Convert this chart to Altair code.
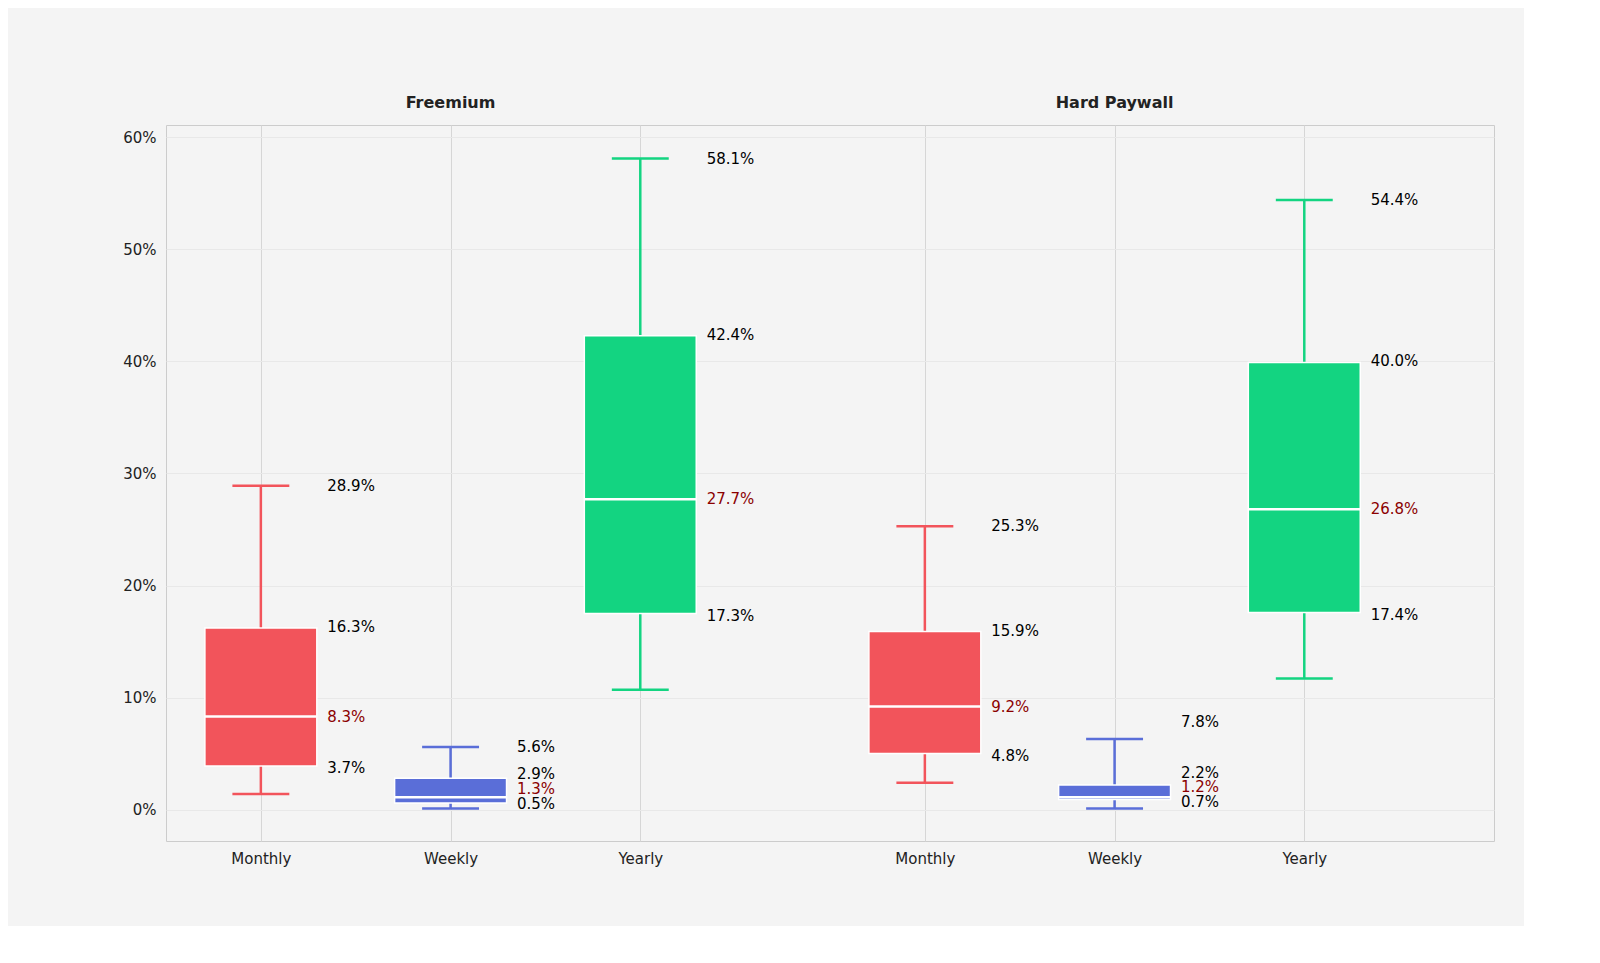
import pandas as pd
import altair as alt

groups = ["Freemium"] * 3 + ["Hard Paywall"] * 3
plans = ["Monthly", "Weekly", "Yearly"] * 2
pos = [0, 1, 2, 3.5, 4.5, 5.5]
low = [1.4, 0.1, 10.7, 2.4, 0.1, 11.7]
q1 = [3.9, 0.6, 17.5, 5.0, 0.9, 17.6]
med = [8.3, 1.1, 27.7, 9.2, 1.1, 26.8]
q3 = [16.2, 2.8, 42.3, 15.9, 2.2, 39.9]
high = [28.9, 5.6, 58.1, 25.3, 6.3, 54.4]
# label texts
label_hi = [28.9, 5.6, 58.1, 25.3, 7.8, 54.4]
label_q3 = [16.3, 2.9, 42.4, 15.9, 2.2, 40.0]
label_med = [8.3, 1.3, 27.7, 9.2, 1.2, 26.8]
label_q1 = [3.7, 0.5, 17.3, 4.8, 0.7, 17.4]
# where the labels sit (weekly ones are spread apart)
at_hi = [28.9, 5.6, 58.1, 25.3, 7.8, 54.4]
at_q3 = [16.3, 3.2, 42.4, 15.9, 3.3, 40.0]
at_med = [8.3, 1.8, 27.7, 9.2, 2.0, 26.8]
at_q1 = [3.7, 0.5, 17.3, 4.8, 0.7, 17.4]
colors = {"Monthly": "#F2545B", "Weekly": "#5A6ED8", "Yearly": "#13D481"}

df = pd.DataFrame(dict(group=groups, plan=plans, pos=pos, low=low, q1=q1, med=med,
                       q3=q3, high=high))
df["bl"] = df.pos - 0.295
df["br"] = df.pos + 0.295
df["cl"] = df.pos - 0.15
df["cr"] = df.pos + 0.15
df["lx"] = df.pos + 0.35

xs = alt.Scale(domain=[-0.5, 6.5], nice=False, zero=False)
ys = alt.Scale(domain=[-2.8, 61.1], nice=False, zero=False)
col = alt.Color("plan:N", scale=alt.Scale(domain=list(colors), range=list(colors.values())), legend=None)

label_expr = "{'0':'Monthly','1':'Weekly','2':'Yearly','3.5':'Monthly','4.5':'Weekly','5.5':'Yearly'}[datum.value]"
base = alt.Chart(df)

whisker = base.mark_rule(strokeWidth=2.5).encode(
    x=alt.X("pos:Q", scale=xs, title=None,
            axis=alt.Axis(values=pos, labelExpr=label_expr, grid=True, gridColor="#d6d6d6",
                          ticks=False, domain=False, labelFontSize=15, labelPadding=10,
                          labelColor="#222", labelFont="DejaVu Sans")),
    y=alt.Y("low:Q", scale=ys, title=None,
            axis=alt.Axis(values=[0, 10, 20, 30, 40, 50, 60], labelExpr="datum.value + '%'",
                          gridColor="#e8e8e8", ticks=False, domain=False, labelFontSize=15,
                          labelPadding=10, labelColor="#222", labelFont="DejaVu Sans")),
    y2="high:Q", color=col)
caps_lo = base.mark_rule(strokeWidth=2.5).encode(x=alt.X("cl:Q", scale=xs), x2="cr:Q",
                                                y=alt.Y("low:Q", scale=ys), color=col)
caps_hi = base.mark_rule(strokeWidth=2.5).encode(x=alt.X("cl:Q", scale=xs), x2="cr:Q",
                                                y=alt.Y("high:Q", scale=ys), color=col)
box = base.mark_rect(stroke="white", strokeWidth=1.5).encode(
    x=alt.X("bl:Q", scale=xs), x2="br:Q", y=alt.Y("q1:Q", scale=ys), y2="q3:Q", color=col,
    opacity=alt.value(1))
median = base.mark_rule(color="white", strokeWidth=2.5).encode(
    x=alt.X("bl:Q", scale=xs), x2="br:Q", y=alt.Y("med:Q", scale=ys))

lab = pd.DataFrame({
    "x": list(df.lx) * 4,
    "y": at_hi + at_q3 + at_med + at_q1,
    "v": label_hi + label_q3 + label_med + label_q1,
    "kind": ["o"] * 12 + ["m"] * 6 + ["o"] * 6,
})
lab["t"] = lab.v.map(lambda v: f"{v:.1f}%")
labels = alt.Chart(lab).mark_text(align="left", fontSize=15, font="DejaVu Sans").encode(
    x=alt.X("x:Q", scale=xs), y=alt.Y("y:Q", scale=ys), text="t:N",
    color=alt.Color("kind:N", scale=alt.Scale(domain=["o", "m"], range=["#000000", "#8B0000"]),
                    legend=None))

titles_df = pd.DataFrame({"x": [1, 4.5], "y": [63.1, 63.1], "t": ["Freemium", "Hard Paywall"]})
titles = alt.Chart(titles_df).mark_text(fontSize=16, fontWeight="bold", color="#222",
                                        font="DejaVu Sans", clip=False).encode(
    x=alt.X("x:Q", scale=xs), y=alt.Y("y:Q", scale=ys), text="t:N")

chart = alt.layer(whisker, caps_lo, caps_hi, box, median, labels, titles).resolve_scale(
    color="independent"
).properties(
    width=1328, height=716, background="#f4f4f4",
    padding={"left": 114, "top": 86, "right": 30, "bottom": 60}
).configure_view(stroke="#cccccc", fill="#f4f4f4")

chart.save("out.html", embed_options={"renderer": "svg", "actions": False})
